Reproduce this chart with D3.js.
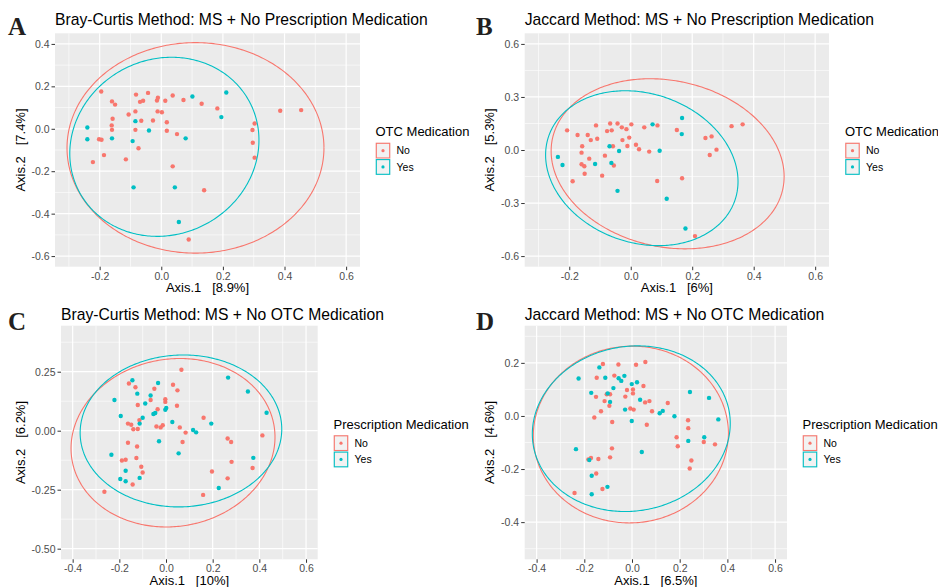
<!DOCTYPE html>
<html>
<head>
<meta charset="utf-8">
<script src="https://cdn.jsdelivr.net/npm/d3@7"></script>
<style>
  html, body { margin: 0; padding: 0; background: #ffffff; }
  svg { display: block; }
</style>
</head>
<body>
<svg id="chart" width="938" height="587"></svg>
<script>
// ---------------- DATA ----------------
const groupLabels = ["No", "Yes"];
const groupColors = ["#F8766D", "#00BFC4"];

const panelLetters = ["A", "B", "C", "D"];
const panelTitles = [
  "Bray-Curtis Method: MS + No Prescription Medication",
  "Jaccard Method: MS + No Prescription Medication",
  "Bray-Curtis Method: MS + No OTC Medication",
  "Jaccard Method: MS + No OTC Medication"
];
const legendTitles = ["OTC Medication", "OTC Medication", "Prescription Medication", "Prescription Medication"];
const xTitles = ["Axis.1   [8.9%]", "Axis.1   [6%]", "Axis.1   [10%]", "Axis.1   [6.5%]"];
const yTitles = ["Axis.2   [7.4%]", "Axis.2   [5.3%]", "Axis.2   [6.2%]", "Axis.2   [4.6%]"];

// axis limits (before ggplot expansion) and ticks
const xLimits = [[-0.3, 0.6], [-0.3, 0.6], [-0.4, 0.6], [-0.4, 0.6]];
const yLimits = [[-0.6, 0.4], [-0.6, 0.6], [-0.5, 0.4], [-0.5, 0.3]];
const xTicksAB = [-0.2, 0.0, 0.2, 0.4, 0.6];
const xTicksCD = [-0.4, -0.2, 0.0, 0.2, 0.4, 0.6];
const yTicksA = [-0.6, -0.4, -0.2, 0.0, 0.2, 0.4];
const yTicksB = [-0.6, -0.3, 0.0, 0.3, 0.6];
const yTicksC = [-0.50, -0.25, 0.00, 0.25];
const yTicksD = [-0.4, -0.2, 0.0, 0.2];
const xTickLabelsAB = ["-0.2", "0.0", "0.2", "0.4", "0.6"];
const xTickLabelsCD = ["-0.4", "-0.2", "0.0", "0.2", "0.4", "0.6"];
const yTickLabelsA = ["-0.6", "-0.4", "-0.2", "0.0", "0.2", "0.4"];
const yTickLabelsB = ["-0.6", "-0.3", "0.0", "0.3", "0.6"];
const yTickLabelsC = ["-0.50", "-0.25", "0.00", "0.25"];
const yTickLabelsD = ["-0.4", "-0.2", "0.0", "0.2"];

// Panel A points [Axis.1, Axis.2]
const aNo = [
  [-0.195,0.176],[-0.082,0.161],[-0.043,0.169],[-0.160,0.129],[-0.150,0.114],[-0.069,0.127],
  [-0.059,0.132],[-0.014,0.133],[-0.011,0.146],[0.013,0.132],[0.037,0.157],[0.072,0.136],
  [0.131,0.118],[0.182,0.096],[0.386,0.085],[0.454,0.088],[-0.106,0.067],[-0.084,0.082],
  [-0.012,0.082],[0.002,0.078],[-0.158,0.047],[-0.065,0.038],[-0.027,0.039],[0.018,0.031],
  [-0.161,0.016],[-0.160,-0.005],[-0.084,-0.005],[0.018,-0.009],[0.051,-0.025],[0.303,0.025],
  [0.296,-0.006],[0.297,-0.066],[0.303,-0.136],[-0.202,-0.049],[-0.194,-0.052],[-0.074,-0.092],
  [-0.186,-0.124],[-0.222,-0.157],[-0.115,-0.144],[0.037,-0.177],[0.139,-0.290],[0.089,-0.522]
];
const aYes = [
  [-0.240,0.006],[-0.240,-0.049],[-0.160,-0.045],[-0.093,-0.058],[-0.084,0.036],[-0.040,-0.008],
  [0.101,0.152],[0.211,0.171],[0.195,0.055],[0.079,-0.045],[-0.090,-0.276],[0.044,-0.276],[0.057,-0.439]
];
// Panel B points
const bNo = [
  [-0.207,0.111],[-0.173,0.085],[-0.140,0.085],[-0.130,0.056],[-0.113,0.139],[-0.109,0.064],
  [-0.077,0.107],[-0.067,0.150],[-0.062,0.111],[-0.043,0.150],[-0.029,0.128],[-0.014,0.118],
  [0.002,0.145],[-0.027,0.056],[-0.005,0.070],[-0.011,0.023],[-0.058,0.021],[0.017,0.030],
  [0.027,0.004],[0.044,0.128],[0.087,0.139],[0.060,-0.009],[0.150,0.113],[-0.158,0.021],
  [-0.160,-0.015],[-0.135,-0.049],[-0.084,-0.032],[-0.160,-0.081],[-0.151,-0.092],[-0.055,-0.088],
  [-0.150,-0.134],[-0.093,-0.145],[-0.189,-0.177],[0.086,-0.175],[0.167,-0.160],[0.243,0.068],
  [0.263,0.077],[0.279,0.002],[0.257,-0.028],[0.328,0.135],[0.364,0.145],[0.209,-0.487]
];
const bYes = [
  [-0.237,-0.039],[-0.222,-0.085],[-0.116,-0.079],[-0.069,0.021],[-0.038,-0.006],[-0.063,-0.073],
  [-0.043,-0.231],[0.071,0.145],[0.094,-0.004],[0.167,0.181],[0.166,0.090],[0.117,-0.276],[0.178,-0.444]
];
// Panel C points
const cNo = [
  [0.066,0.258],[-0.159,0.200],[-0.131,0.184],[-0.050,0.178],[0.030,0.195],[0.049,0.171],
  [-0.066,0.130],[-0.003,0.133],[-0.003,0.122],[-0.121,0.109],[0.047,0.106],[-0.036,0.091],
  [-0.114,0.045],[-0.163,0.030],[-0.149,0.025],[-0.140,0.006],[-0.121,0.007],[-0.041,0.018],
  [-0.023,0.014],[-0.014,0.023],[0.059,0.014],[0.084,-0.008],[0.071,-0.048],[0.161,0.055],
  [-0.163,-0.051],[-0.124,-0.067],[-0.189,-0.126],[-0.173,-0.123],[-0.127,-0.116],[-0.106,-0.153],
  [-0.100,-0.177],[-0.143,-0.228],[-0.264,-0.259],[0.264,-0.033],[0.279,-0.048],[0.281,-0.132],
  [0.197,-0.173],[0.264,-0.202],[0.159,-0.272],[0.371,-0.158],[0.413,-0.020]
];
const cYes = [
  [-0.144,0.214],[-0.123,0.157],[-0.034,0.202],[-0.221,0.130],[-0.066,0.149],[-0.089,0.115],
  [-0.194,0.062],[-0.100,0.055],[-0.113,0.030],[-0.054,0.071],[-0.046,0.075],[-0.003,0.089],
  [0.001,0.096],[0.027,0.037],[0.116,0.003],[0.129,-0.007],[0.194,0.030],[-0.030,-0.045],
  [0.054,-0.096],[-0.234,-0.102],[-0.173,-0.170],[-0.196,-0.205],[-0.173,-0.214],[-0.113,-0.200],
  [0.226,-0.243],[0.266,0.225],[0.351,0.166],[0.431,0.076],[0.374,-0.115]
];
// Panel D points
const dNo = [
  [-0.122,0.196],[-0.057,0.194],[0.017,0.193],[0.056,0.203],[-0.148,0.144],[-0.074,0.152],
  [0.048,0.113],[-0.021,0.098],[0.004,0.100],[0.004,0.085],[-0.106,0.082],[-0.092,0.082],
  [-0.151,0.072],[-0.028,0.073],[-0.115,0.056],[-0.095,0.038],[0.055,0.051],[0.073,0.056],
  [0.150,0.049],[-0.130,0.018],[-0.007,0.028],[0.007,0.024],[0.084,0.018],[-0.158,-0.006],
  [-0.083,-0.023],[0.062,-0.033],[0.235,-0.016],[0.236,-0.046],[0.187,-0.080],[0.192,-0.114],
  [0.301,-0.098],[0.348,-0.107],[-0.084,-0.122],[-0.092,-0.156],[-0.172,-0.158],[-0.183,-0.164],
  [-0.141,-0.162],[0.249,-0.168],[0.242,-0.198],[-0.150,-0.217],[-0.124,-0.275],[-0.241,-0.290]
];
const dYes = [
  [-0.137,0.183],[-0.224,0.141],[-0.112,0.144],[-0.056,0.142],[-0.045,0.132],[-0.032,0.151],
  [-0.078,0.105],[-0.001,0.120],[0.021,0.127],[-0.171,0.087],[-0.102,0.085],[-0.092,0.053],
  [0.034,0.061],[-0.029,0.024],[-0.001,-0.019],[0.116,0.010],[0.129,0.019],[0.178,-0.001],
  [0.243,0.090],[0.323,0.068],[0.362,-0.013],[0.303,-0.080],[0.236,-0.094],[0.041,-0.136],
  [-0.235,-0.125],[-0.179,-0.166],[-0.169,-0.225],[-0.103,-0.267],[-0.169,-0.295]
];

// 95% ellipses: [centerX, centerY, halfWidthX, halfHeightY, yOffsetOfRightmostPoint]
const ellipsesA = [[0.111, -0.090, 0.417, 0.496, 0.000], [0.010, -0.085, 0.307, 0.422, 0.032]];
const ellipsesB = [[0.120, -0.078, 0.379, 0.481, -0.072], [0.036, -0.103, 0.313, 0.438, -0.075]];
const ellipsesC = [[0.030, -0.051, 0.437, 0.357, 0.024], [0.064, -0.001, 0.432, 0.322, 0.008]];
const ellipsesD = [[-0.005, -0.070, 0.409, 0.333, 0.005], [-0.003, -0.048, 0.415, 0.312, 0.020]];

// ---------------- LAYOUT ----------------
const panels = [
  { box: [55, 360, 33.3, 266.7], ox: 0, oy: 0, pts: [aNo, aYes], ell: ellipsesA,
    xt: xTicksAB, xl: xTickLabelsAB, yt: yTicksA, yl: yTickLabelsA, ytl: 25, legX: 375.5, legY: 136 },
  { box: [524.7, 829, 33.3, 266.7], ox: 468, oy: 0, pts: [bNo, bYes], ell: ellipsesB,
    xt: xTicksAB, xl: xTickLabelsAB, yt: yTicksB, yl: yTickLabelsB, ytl: 494, legX: 845, legY: 136 },
  { box: [61, 317.7, 325.7, 559.3], ox: 0, oy: 295, pts: [cNo, cYes], ell: ellipsesC,
    xt: xTicksCD, xl: xTickLabelsCD, yt: yTicksC, yl: yTickLabelsC, ytl: 25, legX: 333.5, legY: 428.5 },
  { box: [524.7, 787, 325.7, 559.3], ox: 468, oy: 295, pts: [dNo, dYes], ell: ellipsesD,
    xt: xTicksCD, xl: xTickLabelsCD, yt: yTicksD, yl: yTickLabelsD, ytl: 494, legX: 802.5, legY: 428.5 }
];

const svg = d3.select("#chart");
const sans = "'Liberation Sans', Arial, Helvetica, sans-serif";

function expand(lim) {
  const e = (lim[1] - lim[0]) * 0.05;
  return [lim[0] - e, lim[1] + e];
}

function minorBreaks(ticks, dom) {
  const step = ticks[1] - ticks[0];
  const out = [];
  const start = ticks[0] - step / 2;
  for (let v = start; v <= dom[1] + 1e-9; v += step) {
    if (v >= dom[0] - 1e-9) out.push(+v.toFixed(6));
  }
  return out;
}

panels.forEach((p, i) => {
  const [L, R, T, B] = p.box;
  const xDom = expand(xLimits[i]);
  const yDom = expand(yLimits[i]);
  const x = d3.scaleLinear().domain(xDom).range([L, R]);
  const y = d3.scaleLinear().domain(yDom).range([B, T]);
  const g = svg.append("g");

  // panel background
  g.append("rect").attr("x", L).attr("y", T).attr("width", R - L).attr("height", B - T).attr("fill", "#EBEBEB");

  // minor grid
  const grid = g.append("g");
  minorBreaks(p.xt, xDom).forEach(v => {
    grid.append("line").attr("x1", x(v)).attr("x2", x(v)).attr("y1", T).attr("y2", B)
      .attr("stroke", "#ffffff").attr("stroke-width", 0.6);
  });
  minorBreaks(p.yt, yDom).forEach(v => {
    grid.append("line").attr("y1", y(v)).attr("y2", y(v)).attr("x1", L).attr("x2", R)
      .attr("stroke", "#ffffff").attr("stroke-width", 0.6);
  });
  // major grid
  p.xt.forEach(v => {
    grid.append("line").attr("x1", x(v)).attr("x2", x(v)).attr("y1", T).attr("y2", B)
      .attr("stroke", "#ffffff").attr("stroke-width", 1.2);
  });
  p.yt.forEach(v => {
    grid.append("line").attr("y1", y(v)).attr("y2", y(v)).attr("x1", L).attr("x2", R)
      .attr("stroke", "#ffffff").attr("stroke-width", 1.2);
  });

  // axes
  const xAxis = d3.axisBottom(x).tickValues(p.xt).tickFormat((d, k) => p.xl[k]).tickSize(3.5).tickPadding(2);
  const yAxis = d3.axisLeft(y).tickValues(p.yt).tickFormat((d, k) => p.yl[k]).tickSize(3.5).tickPadding(2);
  const gx = g.append("g").attr("transform", `translate(0,${B})`).call(xAxis);
  const gy = g.append("g").attr("transform", `translate(${L},0)`).call(yAxis);
  [gx, gy].forEach(ax => {
    ax.select(".domain").remove();
    ax.selectAll(".tick line").attr("stroke", "#333333").attr("stroke-width", 1);
    ax.selectAll(".tick text").attr("fill", "#4D4D4D").attr("font-family", sans).attr("font-size", 10.5);
  });

  // clip for ellipses & points
  const clipId = "clip" + i;
  svg.append("clipPath").attr("id", clipId).append("rect")
    .attr("x", L).attr("y", T).attr("width", R - L).attr("height", B - T);
  const inner = g.append("g").attr("clip-path", `url(#${clipId})`);

  // points
  p.pts.forEach((arr, gi) => {
    inner.append("g").selectAll("circle").data(arr).join("circle")
      .attr("cx", d => x(d[0])).attr("cy", d => y(d[1])).attr("r", 2.2)
      .attr("fill", groupColors[gi]);
  });

  // ellipses
  const line = d3.line().x(d => x(d[0])).y(d => y(d[1]));
  p.ell.forEach((e, gi) => {
    const [cx, cy, rx, ry, dy] = e;
    const h = Math.sqrt(Math.max(ry * ry - dy * dy, 0));
    const ptsE = d3.range(0, 361).map(k => {
      const t = k * Math.PI / 180;
      return [cx + rx * Math.cos(t), cy + dy * Math.cos(t) + h * Math.sin(t)];
    });
    inner.append("path").attr("d", line(ptsE)).attr("fill", "none")
      .attr("stroke", groupColors[gi]).attr("stroke-width", 1.1);
  });

  // panel title
  svg.append("text").attr("x", L).attr("y", p.oy + 25).text(panelTitles[i])
    .attr("font-family", sans).attr("font-size", 15.7).attr("fill", "#000");
  // panel letter
  svg.append("text").attr("x", p.ox + 8).attr("y", p.oy + 35).text(panelLetters[i])
    .attr("font-family", "'Liberation Serif', 'Times New Roman', serif").attr("font-weight", "bold")
    .attr("font-size", 25).attr("fill", "#231F20");

  // axis titles
  svg.append("text").attr("x", (L + R) / 2).attr("y", B + 25.5).attr("text-anchor", "middle")
    .text(xTitles[i]).attr("font-family", sans).attr("font-size", 13).attr("fill", "#000")
    .style("white-space", "pre").attr("xml:space", "preserve");
  svg.append("text").attr("transform", `translate(${p.ytl},${(T + B) / 2}) rotate(-90)`)
    .attr("text-anchor", "middle").text(yTitles[i])
    .attr("font-family", sans).attr("font-size", 13).attr("fill", "#000")
    .style("white-space", "pre").attr("xml:space", "preserve");

  // legend
  const lg = svg.append("g");
  lg.append("text").attr("x", p.legX).attr("y", p.legY).text(legendTitles[i])
    .attr("font-family", sans).attr("font-size", 13).attr("fill", "#000");
  groupLabels.forEach((lab, gi) => {
    const ky = p.legY + 6.5 + gi * 16.3;
    lg.append("rect").attr("x", p.legX).attr("y", ky).attr("width", 15).attr("height", 16.3)
      .attr("fill", "#F2F2F2");
    lg.append("rect").attr("x", p.legX + 0.8).attr("y", ky + 0.8).attr("width", 13.4).attr("height", 14.7)
      .attr("fill", "none").attr("stroke", groupColors[gi]).attr("stroke-width", 1.1);
    lg.append("circle").attr("cx", p.legX + 7.5).attr("cy", ky + 8.15).attr("r", 1.6)
      .attr("fill", groupColors[gi]);
    lg.append("text").attr("x", p.legX + 21).attr("y", ky + 8.15).attr("dy", "0.35em").text(lab)
      .attr("font-family", sans).attr("font-size", 10.5).attr("fill", "#000");
  });
});
</script>
</body>
</html>
